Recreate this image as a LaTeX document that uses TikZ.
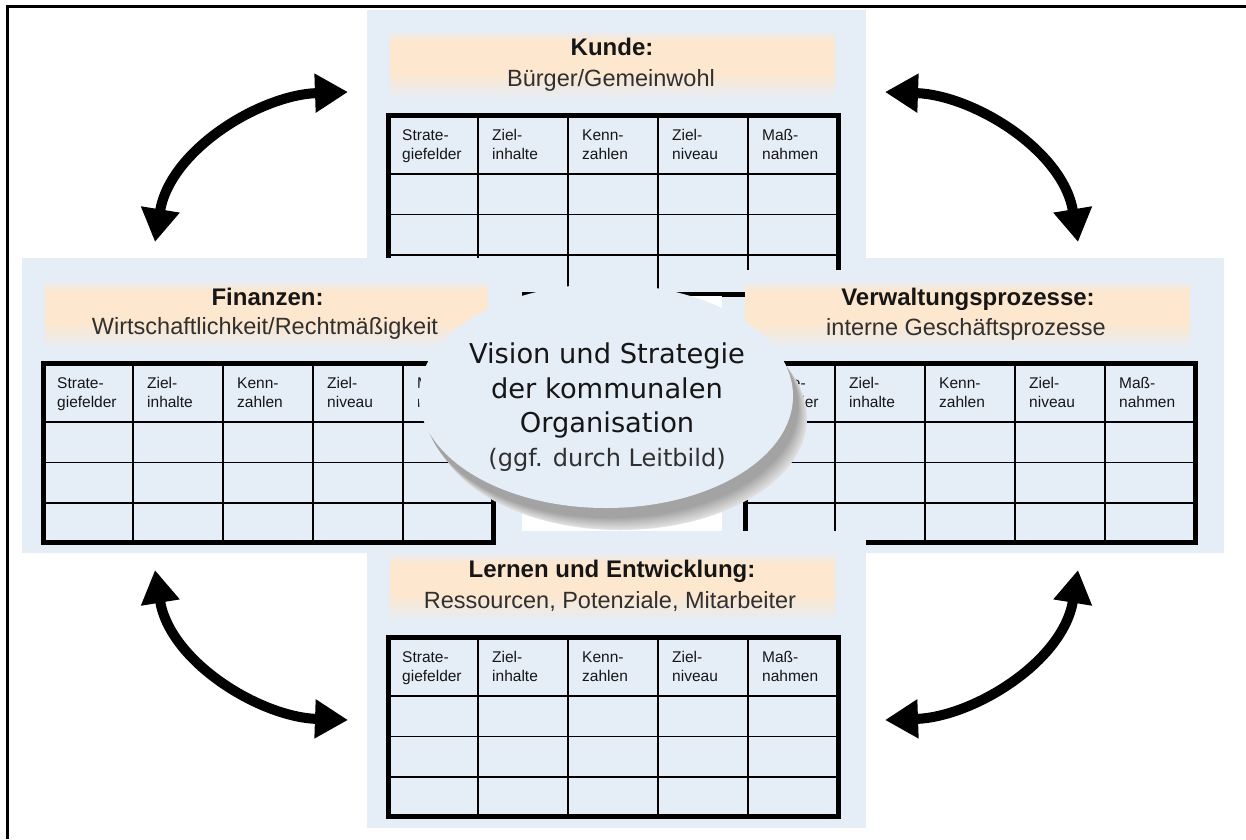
\documentclass[tikz,border=0pt]{standalone}
\usepackage{fontspec}
\setmainfont{Liberation Sans}
\newfontfamily\visionfont{DejaVu Sans}
\usetikzlibrary{arrows.meta,shapes.geometric}
\definecolor{panelblue}{RGB}{229,237,247}
\definecolor{peach}{RGB}{253,231,207}
\definecolor{txt}{RGB}{22,22,22}
\definecolor{subtxt}{RGB}{48,48,48}
\tikzset{
  gridline/.style={line width=1.6pt, draw=black},
  outerline/.style={line width=5pt, draw=black},
  hdr/.style={anchor=base west, inner sep=0pt, text=txt, font=\fontsize{15.5}{19}\selectfont},
  ptitle/.style={anchor=base, inner sep=0pt, text=txt, font=\fontsize{24}{28}\selectfont\bfseries},
  psub/.style={anchor=base, inner sep=0pt, text=subtxt, font=\fontsize{23.5}{28}\selectfont},
  vis/.style={anchor=base, inner sep=0pt, text=txt, font=\visionfont\fontsize{27.3}{32}\selectfont},
  visell/.style={ellipse, draw=none, minimum width=374pt, minimum height=224pt, inner sep=0pt},
  bigarrow/.style={line width=10pt, {Triangle[length=33pt,width=37pt]}-{Triangle[length=33pt,width=37pt]}},
}
\newcommand\bsctable[3]{%
  \begin{scope}[shift={(#2,#3)}]
    \foreach \r in {59,99.5,140} \draw[gridline] (0,\r) -- (450,\r);
    \foreach \c in {90,180,270,360} \draw[gridline] (\c,0) -- (\c,179);
    \draw[outerline] (0,0) rectangle (450,179);
    \foreach \i/\a/\b in {0/Strate-/giefelder,1/Ziel-/inhalte,2/Kenn-/zahlen,3/Ziel-/niveau,4/Maß-/nahmen}{
      \node[hdr] (#1h\i a) at (\i*90+14,25) {\a};
      \node[hdr] (#1h\i b) at (\i*90+14,44) {\b};
    }
  \end{scope}}
\newcommand\peachstrip[3]{%
  \fill[peach] (#1,#3-14) rectangle (#2,#3+18);
  \shade[top color=panelblue, bottom color=peach] (#1,#3-25) rectangle (#2,#3-14);
  \shade[top color=peach, bottom color=panelblue] (#1,#3+18) rectangle (#2,#3+45);}
\begin{document}
\begin{tikzpicture}[x=1pt,y=-1pt]
\useasboundingbox (0,0) rectangle (1246,839);
\fill[white] (0,0) rectangle (1246,839);
% frame
\coordinate (frTL) at (7.5,6.5);
\coordinate (frTR) at (1246,6.5);
\coordinate (frBL) at (7.5,839);
\draw[line width=2.5pt] (frBL) -- (frTL) -- (frTR);
% panel backgrounds
\fill[panelblue] (22,258) rectangle (1224,553);
\fill[panelblue] (367,10) rectangle (866,258);
\fill[panelblue] (367,553) rectangle (866,828);
% top panel
\peachstrip{390}{835}{55}
\node[ptitle] (kundeT) at (612,55) {Kunde:};
\node[psub] (kundeS) at (611,86) {Bürger/Gemeinwohl};
\bsctable{top}{388}{115}
% covers of the middle band
\fill[panelblue] (22,258) rectangle (522,553);
\fill[panelblue] (745,270) rectangle (1224,553);
% left panel
\peachstrip{45}{488}{305}
\node[ptitle] (finT) at (267.5,305) {Finanzen:};
\node[psub] (finS) at (265,334) {Wirtschaftlichkeit/Rechtmäßigkeit};
\bsctable{left}{43}{363}
% right panel
\peachstrip{745}{1190}{305}
\node[ptitle] (verT) at (968,305) {Verwaltungsprozesse:};
\node[psub] (verS) at (966,335) {interne Geschäftsprozesse};
\bsctable{right}{745}{363}
\fill[panelblue] (740,531) rectangle (866,553);
% centre
\fill[white] (522,296) rectangle (722,531);
\foreach \k in {0,...,12}{
  \pgfmathsetmacro\dx{606+5+(12-\k)*0.75}
  \pgfmathsetmacro\dy{396+10+(12-\k)*1.0}
  \pgfmathsetmacro\sp{12+\k*2.0}
  \node[visell, fill=black!\sp] (visshadow\k) at (\dx,\dy) {};
}
\node[visell, fill=panelblue] (visbody) at (606,396) {};
\node[vis] (v1) at (607,363) {Vision und Strategie};
\node[vis] (v2) at (607,398) {der kommunalen};
\node[vis] (v3) at (607,432) {Organisation};
\node[vis, text=subtxt, font=\visionfont\fontsize{24}{29}\selectfont] (v4) at (607,466) {(ggf. durch Leitbild)};
% bottom panel
\peachstrip{390}{835}{577}
\node[ptitle] (lernT) at (612,577) {Lernen und Entwicklung:};
\node[psub] (lernS) at (610,608) {Ressourcen, Potenziale, Mitarbeiter};
\bsctable{bot}{388}{637}
% arrows
\coordinate (tlA) at (155,242);
\coordinate (tlB) at (348,92);
\coordinate (trA) at (885,92);
\coordinate (trB) at (1078,242);
\coordinate (blA) at (155,570);
\coordinate (blB) at (348,720);
\coordinate (brA) at (885,720);
\coordinate (brB) at (1078,570);
\draw[bigarrow] (tlA) .. controls (170,150) and (260,95) .. (tlB);
\draw[bigarrow] (trA) .. controls (973,95) and (1063,150) .. (trB);
\draw[bigarrow] (blA) .. controls (170,662) and (260,717) .. (blB);
\draw[bigarrow] (brA) .. controls (973,717) and (1063,662) .. (brB);
\end{tikzpicture}
\end{document}
